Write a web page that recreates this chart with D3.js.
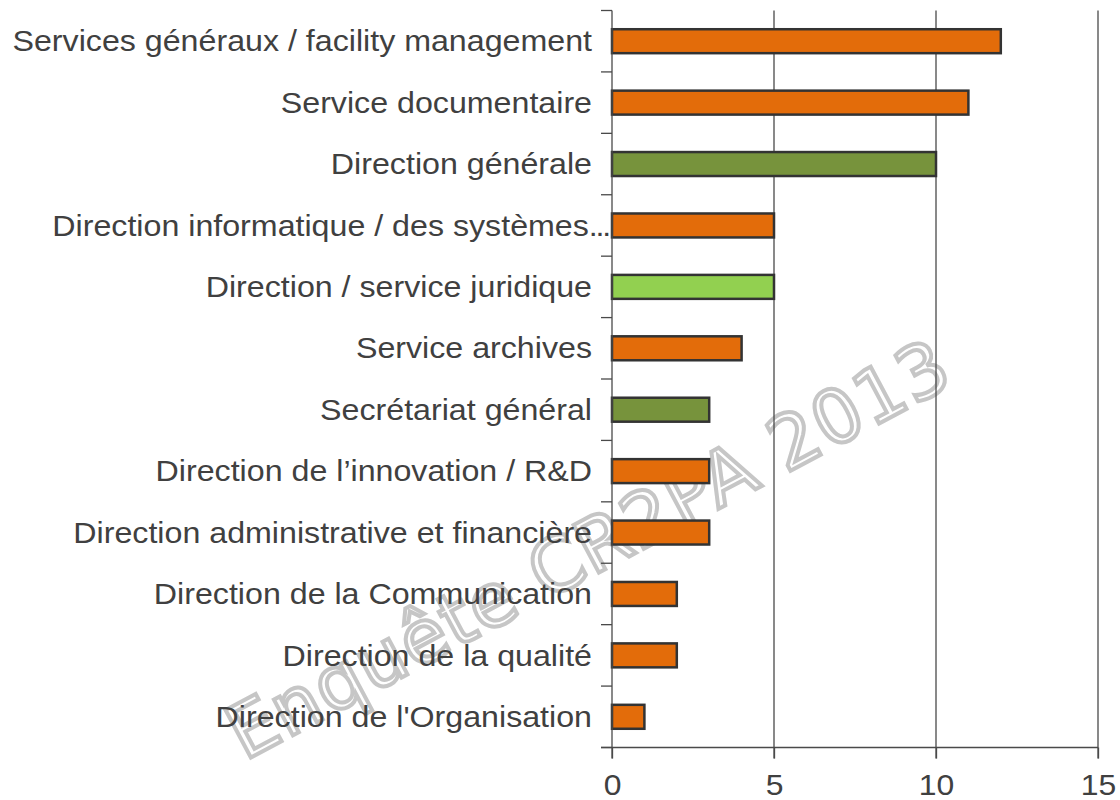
<!DOCTYPE html>
<html>
<head>
<meta charset="utf-8">
<script src="https://cdn.jsdelivr.net/npm/d3@7"></script>
<style>
  body { margin: 0; background: #fff; }
  svg { display: block; }
</style>
</head>
<body>
<svg id="chart" width="1120" height="800"></svg>
<script>
// data (top to bottom)
var categories = [
  "Services généraux / facility management",
  "Service documentaire",
  "Direction générale",
  "Direction informatique / des systèmes...",
  "Direction / service juridique",
  "Service archives",
  "Secrétariat général",
  "Direction de l’innovation / R&D",
  "Direction administrative et financière",
  "Direction de la Communication",
  "Direction de la qualité",
  "Direction de l'Organisation"
];
var values = [12, 11, 10, 5, 5, 4, 3, 3, 3, 2, 2, 1];
var groups = ["o", "o", "g", "o", "l", "o", "g", "o", "o", "o", "o", "o"];
var xTicks = [0, 5, 10, 15];

var colors = { o: "#E36C0A", g: "#77933C", l: "#92D050" };

var svg = d3.select("#chart");
var plotLeft = 612, plotRight = 1098, plotTop = 10.5, plotBottom = 747.5;
var axisColor = "#4a4a4a";

var x = d3.scaleLinear().domain([0, 15]).range([plotLeft, plotRight]);
var y = d3.scaleBand().domain(categories).range([plotTop, plotBottom])
  .paddingInner(0.61).paddingOuter(0.305);

// watermark
svg.append("text")
  .attr("transform", "translate(600,572) rotate(-28)")
  .attr("text-anchor", "middle")
  .attr("textLength", 805)
  .attr("lengthAdjust", "spacing")
  .style("font-family", "DejaVu Sans")
  .style("font-size", "74px")
  .attr("fill", "#fff")
  .attr("stroke", "#c6c6c6")
  .attr("stroke-width", 4)
  .text("Enquête CR2PA 2013");

// gridlines
svg.append("g").selectAll("line")
  .data(xTicks.slice(1))
  .join("line")
  .attr("x1", d => x(d)).attr("x2", d => x(d))
  .attr("y1", plotTop).attr("y2", plotBottom + 11)
  .attr("stroke", axisColor).attr("stroke-width", 1.3);

// bars
svg.append("g").selectAll("rect")
  .data(values)
  .join("rect")
  .attr("x", x(0))
  .attr("y", (d, i) => y(categories[i]))
  .attr("width", d => x(d) - x(0))
  .attr("height", y.bandwidth())
  .attr("fill", (d, i) => colors[groups[i]])
  .attr("stroke", "#333")
  .attr("stroke-width", 2.5);

// y axis with ticks at band edges
var yAxis = svg.append("g");
yAxis.append("line")
  .attr("x1", plotLeft).attr("x2", plotLeft)
  .attr("y1", plotTop).attr("y2", plotBottom + 11)
  .attr("stroke", axisColor).attr("stroke-width", 1.3);
var edges = d3.range(categories.length + 1).map(i => plotTop + i * y.step());
yAxis.selectAll("line.tk")
  .data(edges)
  .join("line").attr("class", "tk")
  .attr("x1", plotLeft - 11).attr("x2", plotLeft)
  .attr("y1", d => d).attr("y2", d => d)
  .attr("stroke", axisColor).attr("stroke-width", 1.3);

// x axis
var xAxis = d3.axisBottom(x).tickValues(xTicks).tickSize(11).tickPadding(16);
var gx = svg.append("g").attr("transform", "translate(0," + plotBottom + ")").call(xAxis);
gx.select(".domain").attr("d", "M" + (plotLeft - 11) + ",0H" + plotRight)
  .attr("stroke", axisColor).attr("stroke-width", 1.3);
gx.selectAll(".tick line").attr("stroke", axisColor).attr("stroke-width", 1.3);
gx.selectAll(".tick text")
  .attr("fill", "#404040")
  .style("font-family", "Liberation Sans, Arial, sans-serif")
  .style("font-size", "29px")
  .attr("transform", "scale(1.1,1)");

// category labels (truncated label spills its dots over the tick, as in Excel)
var labels = svg.append("g").selectAll("text")
  .data(categories)
  .join("text")
  .attr("transform", d => "translate(" + (d.endsWith("...") ? 609 : 592) + "," +
    (y(d) + y.bandwidth() / 2) + ") scale(1.11,1)")
  .attr("text-anchor", "end")
  .attr("dy", "0.35em")
  .attr("fill", "#404040")
  .style("font-family", "Liberation Sans, Arial, sans-serif")
  .style("font-size", "29px");
labels.each(function(d) {
  var t = d3.select(this);
  if (d.endsWith("...")) {
    t.append("tspan").text(d.slice(0, -3));
    t.append("tspan").attr("letter-spacing", "-2px").text("...");
  } else {
    t.text(d);
  }
});
</script>
</body>
</html>
